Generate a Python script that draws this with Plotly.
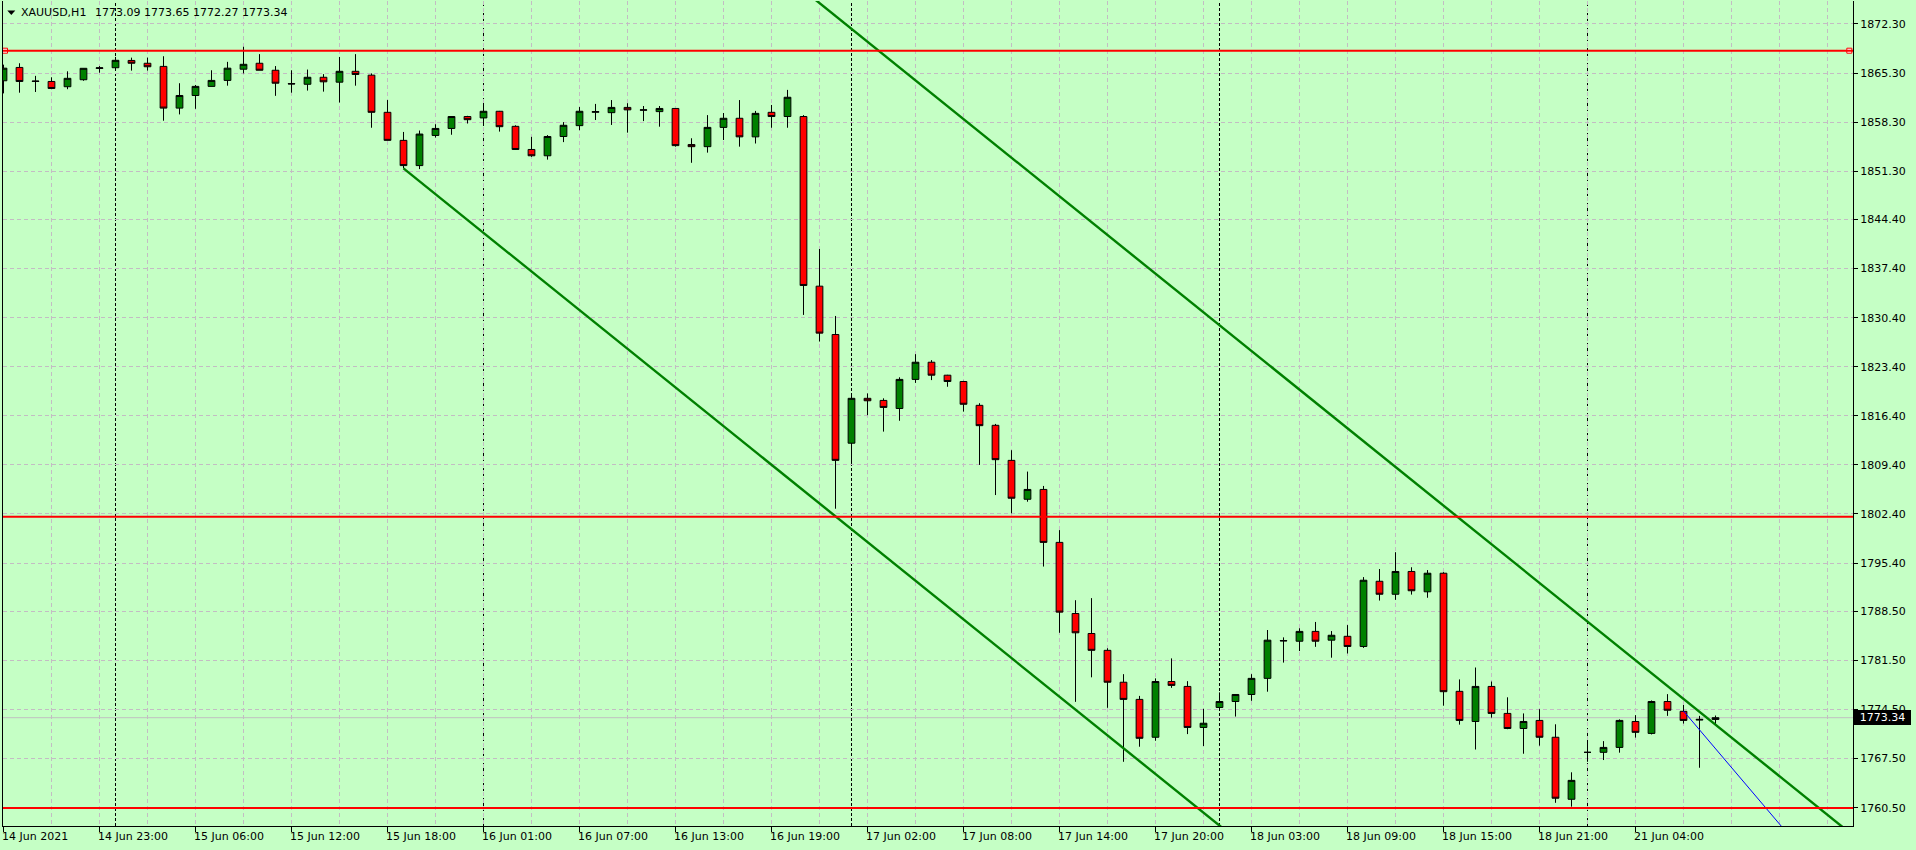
import plotly.graph_objects as go

# ---------------- data (XAUUSD H1) ----------------
opens = [1864.2, 1866.1, 1864.1, 1864.1, 1863.35, 1864.35, 1865.95, 1866.06, 1867.1, 1866.7,
         1866.25, 1860.3, 1862.1, 1863.4, 1864.25, 1865.85, 1866.7, 1865.7, 1863.8, 1863.7,
         1864.7, 1864.0, 1865.55, 1865.0, 1859.7, 1855.7, 1852.1, 1856.4, 1857.4, 1859.1,
         1858.9, 1859.85, 1857.7, 1854.4, 1853.5, 1856.25, 1857.8, 1859.7, 1859.65, 1860.4,
         1860.0, 1859.8, 1860.25, 1855.1, 1854.8, 1857.55, 1858.85, 1856.2, 1859.7, 1859.1,
         1859.1, 1834.9, 1828.0, 1812.5, 1818.9, 1818.6, 1817.45, 1821.6, 1824.05, 1822.2,
         1821.3, 1817.9, 1815.05, 1810.05, 1804.5, 1805.9, 1798.35, 1788.2, 1785.35, 1782.95,
         1778.4, 1775.95, 1770.55, 1778.5, 1777.8, 1771.95, 1774.8, 1775.65, 1776.65, 1778.95,
         1784.35, 1784.25, 1785.65, 1784.4, 1784.95, 1783.5, 1792.8, 1790.95, 1794.2, 1791.3,
         1793.95, 1777.1, 1772.8, 1777.8, 1773.95, 1771.8, 1772.95, 1770.55, 1761.7, 1768.4,
         1768.4, 1769.1, 1772.8, 1771.1, 1775.65, 1774.25, 1773.0, 1773.09]
highs = [1866.5, 1866.7, 1864.9, 1864.7, 1865.55, 1866.0, 1866.3, 1867.6, 1867.5, 1867.5,
         1867.7, 1863.85, 1863.6, 1865.7, 1866.9, 1869.05, 1868.0, 1866.3, 1865.7, 1865.8,
         1865.15, 1867.6, 1868.0, 1865.25, 1861.45, 1856.9, 1857.1, 1858.0, 1859.1, 1859.2,
         1860.85, 1859.9, 1857.85, 1856.2, 1856.45, 1858.3, 1860.45, 1860.9, 1861.45, 1861.0,
         1860.6, 1860.6, 1860.3, 1856.0, 1859.3, 1859.6, 1861.45, 1859.9, 1860.75, 1862.9,
         1859.3, 1840.2, 1830.65, 1819.4, 1819.6, 1818.9, 1821.9, 1825.2, 1824.35, 1822.25,
         1821.4, 1818.2, 1815.25, 1811.5, 1808.45, 1806.4, 1800.1, 1790.1, 1790.4, 1783.25,
         1779.55, 1776.45, 1778.95, 1781.8, 1778.55, 1774.6, 1776.95, 1776.7, 1779.55, 1785.85,
         1784.8, 1786.1, 1787.0, 1785.7, 1786.55, 1793.4, 1794.55, 1796.95, 1794.8, 1794.4,
         1794.1, 1778.8, 1780.5, 1778.5, 1776.25, 1773.95, 1774.55, 1772.4, 1765.55, 1770.1,
         1770.0, 1773.1, 1773.7, 1775.8, 1776.7, 1775.15, 1773.6, 1773.65]
lows = [1862.4, 1862.5, 1862.6, 1863.0, 1863.0, 1864.2, 1865.35, 1865.65, 1865.65, 1865.65,
        1858.5, 1859.4, 1860.2, 1863.4, 1863.5, 1865.25, 1865.7, 1862.05, 1862.5, 1862.8,
        1862.65, 1861.1, 1863.5, 1857.5, 1855.7, 1851.7, 1851.6, 1856.1, 1856.5, 1858.1,
        1857.95, 1856.95, 1854.35, 1853.35, 1852.95, 1855.45, 1857.15, 1858.6, 1857.9, 1856.8,
        1858.45, 1857.65, 1854.8, 1852.5, 1853.95, 1855.75, 1854.8, 1855.25, 1857.5, 1857.5,
        1830.8, 1827.0, 1803.15, 1809.6, 1816.5, 1814.15, 1815.7, 1821.1, 1821.5, 1820.55,
        1817.0, 1809.4, 1805.1, 1802.5, 1804.15, 1794.9, 1785.45, 1775.6, 1779.1, 1774.75,
        1767.05, 1769.2, 1770.05, 1777.6, 1771.0, 1769.3, 1774.8, 1773.5, 1775.75, 1777.05,
        1781.2, 1782.85, 1783.45, 1781.9, 1782.5, 1783.3, 1790.05, 1790.15, 1790.9, 1790.45,
        1775.05, 1772.35, 1768.8, 1773.35, 1771.7, 1768.2, 1769.35, 1761.2, 1760.65, 1767.05,
        1767.3, 1768.35, 1770.5, 1770.95, 1773.6, 1772.5, 1766.2, 1772.27]
closes = [1866.0, 1864.1, 1864.15, 1863.1, 1864.55, 1865.98, 1866.05, 1867.12, 1866.7, 1866.2,
          1860.3, 1862.1, 1863.4, 1864.25, 1866.0, 1866.55, 1865.7, 1863.85, 1863.75, 1864.7,
          1864.05, 1865.55, 1865.1, 1859.7, 1855.7, 1852.1, 1856.6, 1857.4, 1859.1, 1858.65,
          1859.85, 1857.65, 1854.4, 1853.5, 1856.25, 1857.85, 1859.85, 1859.8, 1860.4, 1860.05,
          1860.05, 1860.25, 1854.95, 1854.8, 1857.55, 1858.85, 1856.2, 1859.55, 1859.1, 1861.85,
          1835.0, 1828.2, 1810.05, 1818.9, 1818.55, 1817.6, 1821.6, 1824.05, 1822.2, 1821.3,
          1818.05, 1815.0, 1810.15, 1804.65, 1805.9, 1798.35, 1788.4, 1785.45, 1782.95, 1778.4,
          1775.95, 1770.4, 1778.5, 1777.95, 1771.95, 1772.55, 1775.65, 1776.65, 1778.95, 1784.4,
          1784.3, 1785.65, 1784.25, 1785.1, 1783.5, 1792.95, 1790.95, 1794.2, 1791.45, 1793.95,
          1777.05, 1772.95, 1777.8, 1773.95, 1771.8, 1772.8, 1770.55, 1761.85, 1764.4, 1768.4,
          1769.1, 1772.95, 1771.25, 1775.65, 1774.4, 1772.95, 1773.1, 1773.34]

x_tick_idx = [0, 6, 12, 18, 24, 30, 36, 42, 48, 54, 60, 66, 72, 78, 84, 90, 96, 102]
x_tick_labels = ["14 Jun 2021", "14 Jun 23:00", "15 Jun 06:00", "15 Jun 12:00", "15 Jun 18:00",
                 "16 Jun 01:00", "16 Jun 07:00", "16 Jun 13:00", "16 Jun 19:00", "17 Jun 02:00",
                 "17 Jun 08:00", "17 Jun 14:00", "17 Jun 20:00", "18 Jun 03:00", "18 Jun 09:00",
                 "18 Jun 15:00", "18 Jun 21:00", "21 Jun 04:00"]
y_tick_vals = [1872.30, 1865.30, 1858.30, 1851.30, 1844.40, 1837.40, 1830.40, 1823.40, 1816.40,
               1809.40, 1802.40, 1795.40, 1788.50, 1781.50, 1774.50, 1767.50, 1760.50]
separator_idx = [7, 30, 53, 76, 99]          # day starts (01:00)
hline_levels = [1868.49, 1802.02, 1760.45]   # red horizontal levels
trend1_x = [25, 80]
trend1_y = [1851.7, 1750.6]
trend2_x = [48, 116]
trend2_y = [1880.80, 1755.80]
blue_x = [105, 111.2]
blue_y = [1774.3, 1757.63]
symbol = "XAUUSD,H1"

# ---------------- styling ----------------
BG = "#C5FFC5"
GRID = "#C3BCC3"
FONT = "DejaVu Sans"
x_range = [-0.031, 115.594]
y_range = [1757.89, 1875.58]
idx = list(range(len(opens)))
grid_x = list(range(0, 115, 3))

fig = go.Figure()

fig.add_trace(go.Candlestick(
    x=idx, open=opens, high=highs, low=lows, close=closes,
    increasing=dict(fillcolor="#008000", line=dict(color="black", width=1)),
    decreasing=dict(fillcolor="#FF0000", line=dict(color="black", width=1)),
    whiskerwidth=0, hoverinfo="skip", showlegend=False))

fig.add_trace(go.Scatter(x=trend1_x, y=trend1_y, mode="lines",
                         line=dict(color="#008000", width=2.4), hoverinfo="skip", showlegend=False))
fig.add_trace(go.Scatter(x=trend2_x, y=trend2_y, mode="lines",
                         line=dict(color="#008000", width=2.4), hoverinfo="skip", showlegend=False))
fig.add_trace(go.Scatter(x=blue_x, y=blue_y, mode="lines",
                         line=dict(color="#0000FF", width=1), hoverinfo="skip", showlegend=False))

shapes = []
# current price line
shapes.append(dict(type="line", xref="paper", x0=0, x1=1, yref="y", y0=closes[-1], y1=closes[-1],
                   line=dict(color="#C0C0C0", width=1), layer="below"))
# day separators
for s in separator_idx:
    shapes.append(dict(type="line", xref="x", x0=s, x1=s, yref="paper", y0=0, y1=1,
                       line=dict(color="black", width=1, dash="3px,2px"), layer="below"))
# red horizontal levels
for lv in hline_levels:
    shapes.append(dict(type="line", xref="paper", x0=0, x1=1, yref="y", y0=lv, y1=lv,
                       line=dict(color="#FF0000", width=2), layer="above"))
# title triangle
shapes.append(dict(type="path", xref="paper", yref="paper", xsizemode="pixel", ysizemode="pixel",
                   xanchor=0, yanchor=1, path="M 4.3 -9.5 L 12.3 -9.5 L 8.3 -14 Z",
                   fillcolor="black", line=dict(width=0), layer="above"))

# selection anchors on the upper level
fig.add_trace(go.Scatter(x=[x_range[0] + 0.125, x_range[1] - 0.23], y=[hline_levels[0]] * 2,
                         mode="markers", cliponaxis=False,
                         marker=dict(symbol="square", size=5, color="white",
                                     line=dict(color="#FF0000", width=1)),
                         hoverinfo="skip", showlegend=False))

annotations = []
for i, lab in zip(x_tick_idx, x_tick_labels):
    annotations.append(dict(x=i, xref="x", y=0, yref="paper", text=lab, showarrow=False,
                            xanchor="left", yanchor="top", xshift=-1.5, yshift=-4,
                            font=dict(family=FONT, size=11, color="black"),
                            borderpad=0, borderwidth=0))
title_vals = " ".join(f"{v:.2f}" for v in (opens[-1], highs[-1], lows[-1], closes[-1]))
annotations.append(dict(x=0, xref="paper", y=1, yref="paper", text=symbol, showarrow=False,
                        xanchor="left", yanchor="middle", xshift=17.5, yshift=-11.5,
                        font=dict(family=FONT, size=11, color="black"), borderpad=0, borderwidth=0))
annotations.append(dict(x=0, xref="paper", y=1, yref="paper", text=title_vals, showarrow=False,
                        xanchor="left", yanchor="middle", xshift=91.5, yshift=-11.5,
                        font=dict(family=FONT, size=11, color="black"), borderpad=0, borderwidth=0))
# current price tag
annotations.append(dict(x=1, xref="paper", y=closes[-1], yref="y", text=f"{closes[-1]:.2f}",
                        showarrow=False, xanchor="left", yanchor="middle", xshift=0.5,
                        width=55, height=13, align="center", bgcolor="black", borderpad=1,
                        borderwidth=0, font=dict(family=FONT, size=11, color="white")))

fig.update_layout(
    width=1916, height=850,
    margin=dict(l=3, r=63, t=1, b=24, autoexpand=False),
    paper_bgcolor=BG, plot_bgcolor=BG,
    showlegend=False, boxgap=0.4, hovermode=False,
    font=dict(family=FONT, size=11, color="black"),
    shapes=shapes, annotations=annotations,
    xaxis=dict(range=x_range, rangeslider=dict(visible=False), showgrid=False, zeroline=False,
               tickmode="array", tickvals=x_tick_idx, showticklabels=False,
               ticks="outside", ticklen=5, tickwidth=1, tickcolor="black",
               showline=True, linecolor="black", linewidth=1, mirror=False, fixedrange=True,
               minor=dict(tickmode="array", tickvals=grid_x, showgrid=True, gridcolor=GRID,
                          griddash="4px,3px", gridwidth=1, ticks="")),
    yaxis=dict(side="right", range=y_range, tickmode="array", tickvals=y_tick_vals,
               ticktext=[f"{v:.2f}" for v in y_tick_vals],
               showgrid=True, gridcolor=GRID, griddash="4px,3px", gridwidth=1, zeroline=False,
               ticks="outside", ticklen=4, tickwidth=1, tickcolor="black",
               showline=True, linecolor="black", linewidth=1, mirror=True, fixedrange=True,
               tickfont=dict(family=FONT, size=11, color="black")),
)

fig.write_html("out.html", config={"displayModeBar": False},
               post_script="document.body.style.margin='0';document.body.style.padding='0';"
                           "document.body.style.overflow='hidden';")
